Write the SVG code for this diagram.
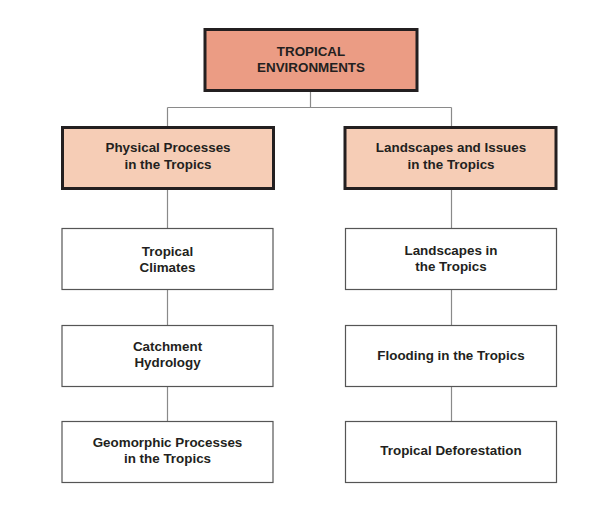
<svg xmlns="http://www.w3.org/2000/svg" width="612" height="507" viewBox="0 0 612 507">
<style>
.t{font-family:"Liberation Sans",Arial,sans-serif;font-weight:bold;font-size:13.4px;fill:#231f20;text-anchor:middle}
.top{fill:#eb9c84;stroke:#231f20;stroke-width:3}
.mid{fill:#f6cdb6;stroke:#231f20;stroke-width:3}
.leaf{fill:#ffffff;stroke:#555555;stroke-width:1.2}
.c{stroke:#8a8a8a;stroke-width:1.2;fill:none}
</style>
<rect width="612" height="507" fill="#ffffff"/>
<g id="connectors">
<path class="c" d="M310.5 91V107.5M167.5 107.5H451.5M167.5 107.5V127M451.5 107.5V127"/>
<path class="c" d="M167.5 189V228M167.5 290V325M167.5 387V421"/>
<path class="c" d="M451.5 189V228M451.5 290V325M451.5 387V421"/>
</g>
<g id="n0">
<rect class="top" x="205" y="29.5" width="212" height="61"/>
<text class="t" x="311" y="56" font-size="14">TROPICAL</text>
<text class="t" x="311" y="72" font-size="14">ENVIRONMENTS</text>
</g>
<g id="n1">
<rect class="mid" x="62.5" y="127.5" width="211" height="61"/>
<text class="t" x="168" y="152">Physical Processes</text>
<text class="t" x="168" y="169">in the Tropics</text>
</g>
<g id="n2">
<rect class="mid" x="345" y="127.5" width="211" height="61"/>
<text class="t" x="451" y="152">Landscapes and Issues</text>
<text class="t" x="451" y="169">in the Tropics</text>
</g>
<g id="n3">
<rect class="leaf" x="62" y="228.5" width="211" height="61"/>
<text class="t" x="167.5" y="256">Tropical</text>
<text class="t" x="167.5" y="272">Climates</text>
</g>
<g id="n4">
<rect class="leaf" x="62" y="325.5" width="211" height="61"/>
<text class="t" x="167.5" y="351">Catchment</text>
<text class="t" x="167.5" y="367">Hydrology</text>
</g>
<g id="n5">
<rect class="leaf" x="62" y="421.5" width="211" height="61"/>
<text class="t" x="167.5" y="447">Geomorphic Processes</text>
<text class="t" x="167.5" y="463">in the Tropics</text>
</g>
<g id="n6">
<rect class="leaf" x="345.5" y="228.5" width="211" height="61"/>
<text class="t" x="451" y="255">Landscapes in</text>
<text class="t" x="451" y="271">the Tropics</text>
</g>
<g id="n7">
<rect class="leaf" x="345.5" y="325.5" width="211" height="61"/>
<text class="t" x="451" y="360">Flooding in the Tropics</text>
</g>
<g id="n8">
<rect class="leaf" x="345.5" y="421.5" width="211" height="61"/>
<text class="t" x="451" y="455">Tropical Deforestation</text>
</g>
</svg>
